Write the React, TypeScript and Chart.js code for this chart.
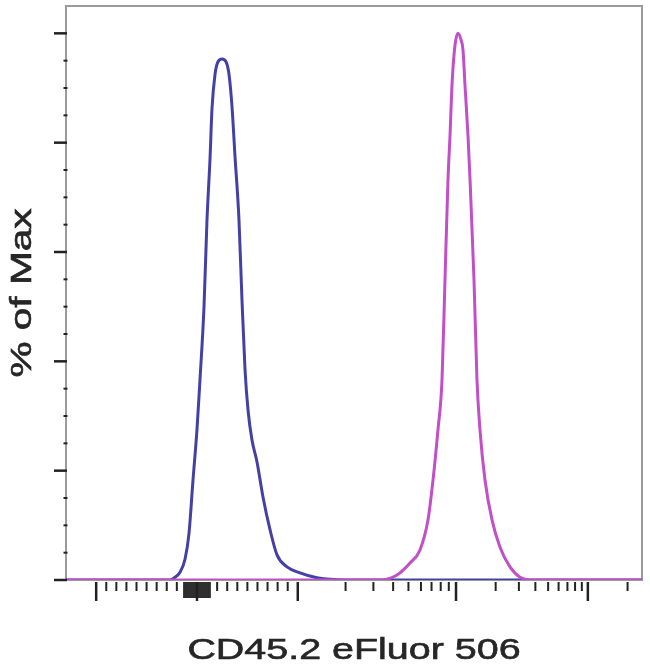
import React, { useEffect, useRef } from "react";
import { Chart, registerables } from "chart.js";

Chart.register(...registerables);

// x values are display channels (0-1000 across the plot), y values are % of Max
const blueX = [0, 180.6, 189.2, 197.9, 206.6, 213.5, 220.5, 227.4, 232.6, 239.6, 244.8, 250, 253.5, 258.7, 263.9, 270.8, 277.8, 283.0, 288.2, 293.4, 300.3, 305.5, 310.8, 316.0, 322.9, 331.6, 342, 354.2, 366.3, 383.7, 406.3, 435.8, 487.8, 1000];
const blueY = [0, 0, 0.5, 1.4, 3.8, 8.5, 18.3, 27.5, 36.6, 50, 65.9, 77, 86.3, 92.5, 94.8, 95.3, 94.8, 92.5, 86.6, 77.5, 65.9, 51.3, 38.5, 31.1, 25.6, 21.6, 15.2, 9.2, 4.6, 2.4, 1.3, 0.4, 0, 0];

const magentaX = [0, 545.1, 574.7, 597.2, 614.6, 628.5, 637.2, 645.8, 652.8, 658, 663.2, 666.7, 670.1, 675.3, 680.6, 685.8, 689.2, 692.7, 697.9, 701.4, 708.3, 713.5, 718.7, 727.4, 739.6, 753.5, 770.8, 788.2, 805.6, 1000];
const magentaY = [0, 0, 0.9, 3.1, 5.5, 11, 18.3, 27.5, 36.6, 55, 73.3, 81.3, 90.5, 97.8, 100, 98.8, 97, 90.5, 81.3, 73.3, 55, 36.6, 27.5, 18.3, 11, 6, 2.4, 0.5, 0, 0];

// y axis ticks (% of Max)
const yMajorTicks = [0, 20, 40, 60, 80, 100];
const yMinorTicks = [5, 10, 15, 25, 30, 35, 45, 50, 55, 65, 70, 75, 85, 90, 95];

// x axis ticks in fluorescence units (biexponential display)
const xMajorTicks = [-1000, 0, 1000, 10000, 100000];
const xMinorTicks = [
  -900, -800, -700, -600, -500, -400, -300, -200,
  200, 300, 400, 500, 600, 700, 800, 900,
  2000, 3000, 4000, 5000, 6000, 7000, 8000, 9000,
  20000, 30000, 40000, 50000, 60000, 70000, 80000, 90000,
  200000,
];
const xZeroCluster = [
  -130, -120, -110, -100, -90, -80, -70, -60, -50, -40, -30, -20, -10,
  10, 20, 30, 40, 50, 60, 70, 80, 90, 100, 110, 120, 130,
];

// biexponential-like display transform: fluorescence value -> channel
const toChannel = (v: number) => {
  if (v <= 1000) return 227.4 + v * 0.175;
  if (v <= 10000) return 402.8 + Math.log10(v / 1000) * 274.3;
  return 677 + Math.log10(v / 10000) * 229;
};

const TEXT_COLOR = "#262626";
const TICK_COLOR = "#222";

const flowAxes = {
  id: "flowAxes",
  beforeDatasetsDraw(chart: any) {
    const { ctx, chartArea } = chart;
    ctx.save();
    ctx.strokeStyle = "#9a9a9a";
    ctx.lineWidth = 2;
    ctx.strokeRect(chartArea.left, chartArea.top, chartArea.right - chartArea.left, chartArea.bottom - chartArea.top);
    ctx.restore();
  },
  afterDraw(chart: any) {
    const { ctx, chartArea, scales } = chart;
    const xs = scales.x;
    const ys = scales.y;
    ctx.save();
    ctx.strokeStyle = TICK_COLOR;

    // y ticks
    ctx.lineWidth = 2.5;
    yMajorTicks.forEach((t) => {
      const py = ys.getPixelForValue(t);
      ctx.beginPath();
      ctx.moveTo(chartArea.left - 12, py);
      ctx.lineTo(chartArea.left + 1, py);
      ctx.stroke();
    });
    ctx.lineWidth = 2;
    yMinorTicks.forEach((t) => {
      const py = ys.getPixelForValue(t);
      ctx.beginPath();
      ctx.moveTo(chartArea.left - 2.5, py);
      ctx.lineTo(chartArea.left + 1.5, py);
      ctx.stroke();
    });

    // x ticks
    const xTick = (v: number, len: number, w: number) => {
      const px = xs.getPixelForValue(toChannel(v));
      ctx.lineWidth = w;
      ctx.beginPath();
      ctx.moveTo(px, chartArea.bottom + 2);
      ctx.lineTo(px, chartArea.bottom + len);
      ctx.stroke();
    };
    xMajorTicks.forEach((v) => xTick(v, 21, 2.5));
    xMinorTicks.forEach((v) => xTick(v, 11, 2));
    xZeroCluster.forEach((v) => xTick(v, 18, 1.5));

    // axis titles
    ctx.fillStyle = TEXT_COLOR;
    ctx.strokeStyle = TEXT_COLOR;
    ctx.lineWidth = 0.6;
    ctx.font = "29px 'Liberation Sans', Arial, sans-serif";
    ctx.textAlign = "center";
    ctx.textBaseline = "alphabetic";

    ctx.save();
    ctx.translate((chartArea.left + chartArea.right) / 2, chartArea.bottom + 79);
    ctx.scale(1.36, 1);
    ctx.fillText("CD45.2 eFluor 506", 0, 0);
    ctx.strokeText("CD45.2 eFluor 506", 0, 0);
    ctx.restore();

    ctx.save();
    ctx.translate(chartArea.left - 35, (chartArea.top + chartArea.bottom) / 2);
    ctx.rotate(-Math.PI / 2);
    ctx.scale(1.4, 1);
    ctx.fillText("% of Max", 0, 0);
    ctx.strokeText("% of Max", 0, 0);
    ctx.restore();

    ctx.restore();
  },
};

const Histogram: React.FC = () => {
  const chartRef = useRef<HTMLCanvasElement>(null);

  useEffect(() => {
    if (!chartRef.current) return;
    const ctx = chartRef.current.getContext("2d");
    if (!ctx) return;

    const chart = new Chart(ctx, {
      type: "line",
      data: {
        datasets: [
          {
            label: "Isotype",
            data: blueX.map((x, i) => ({ x, y: blueY[i] })),
            borderColor: "#4540a5",
            borderWidth: 3,
            pointRadius: 0,
            cubicInterpolationMode: "monotone",
            fill: false,
            order: 2,
          },
          {
            label: "CD45.2",
            data: magentaX.map((x, i) => ({ x, y: magentaY[i] })),
            borderColor: "#c24fc8",
            borderWidth: 3,
            pointRadius: 0,
            cubicInterpolationMode: "monotone",
            fill: false,
            order: 1,
          },
        ],
      },
      options: {
        responsive: true,
        maintainAspectRatio: false,
        animation: false,
        layout: { padding: { left: 66, right: 8, top: 6, bottom: 92 } },
        scales: {
          x: { type: "linear", min: 0, max: 1000, display: false },
          y: { type: "linear", min: 0, max: 105, display: false },
        },
        plugins: {
          legend: { display: false },
          tooltip: { enabled: false },
        },
      },
      plugins: [flowAxes],
    });

    return () => chart.destroy();
  }, []);

  return <canvas ref={chartRef}></canvas>;
};

export default function App() {
  return (
    <div style={{ position: "absolute", left: 0, top: 0, width: 650, height: 672, background: "#fff" }}>
      <Histogram />
    </div>
  );
}
